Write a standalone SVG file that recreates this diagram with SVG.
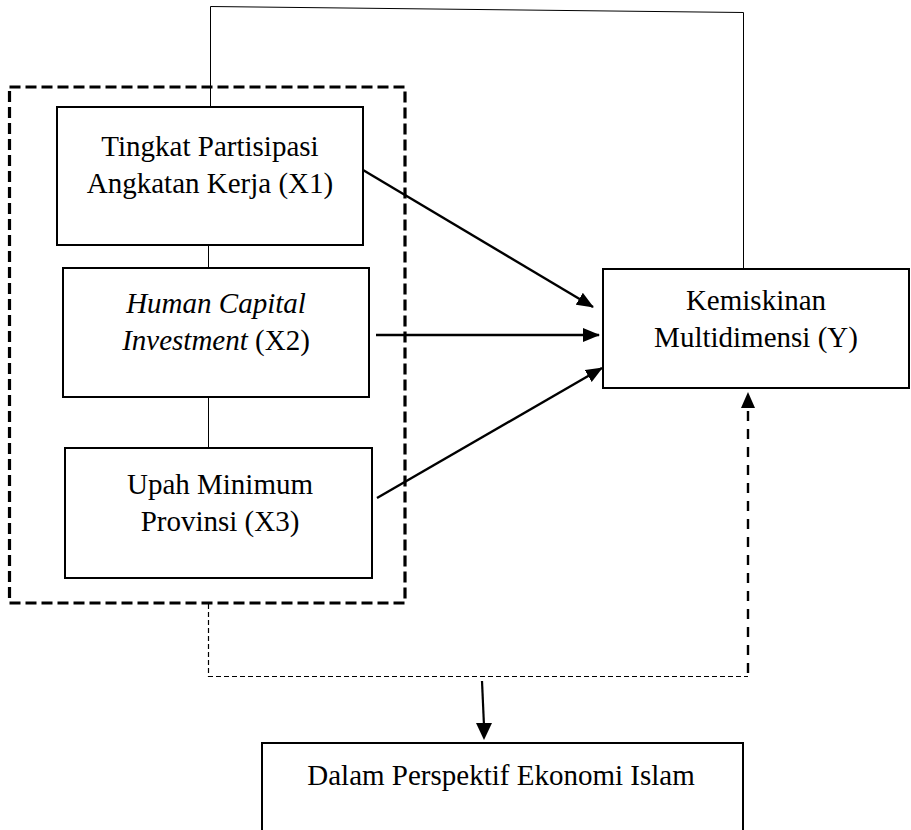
<svg xmlns="http://www.w3.org/2000/svg" width="911" height="830" viewBox="0 0 911 830">
<style>
.box{fill:#fff;stroke:#000;stroke-width:2}
.t{font-family:"Liberation Serif","Times New Roman",serif;font-size:29px;fill:#000;text-anchor:middle}
.i{font-style:italic}
.thin{fill:none;stroke:#000;stroke-width:1}
.arr{fill:none;stroke:#000;stroke-width:2.4;marker-end:url(#ah)}
</style>
<defs>
<marker id="ah" markerUnits="userSpaceOnUse" markerWidth="17" markerHeight="14" refX="16" refY="7" orient="auto">
<path d="M0,0 L17,7 L0,14 z" fill="#000"/>
</marker>
</defs>
<rect width="911" height="830" fill="#fff"/>
<g id="connectors">
<polyline class="thin" points="210.5,107 210.5,6.5 743.5,12.5 743.5,269"/>
<line class="thin" x1="208.5" y1="245" x2="208.5" y2="268"/>
<line class="thin" x1="208.5" y1="397" x2="208.5" y2="448"/>
<line class="arr" x1="363" y1="170" x2="593" y2="307"/>
<line class="arr" x1="376" y1="335" x2="599" y2="335"/>
<line class="arr" x1="377" y1="498" x2="602" y2="368"/>
<polyline fill="none" stroke="#000" stroke-width="1.2" stroke-dasharray="5,3" points="208.5,604 208.5,676.5 748,676.5"/>
<line fill="none" stroke="#000" stroke-width="2.4" stroke-dasharray="10,8" x1="748" y1="673" x2="748" y2="405"/>
<path d="M741,408 L748,392 L755,408 z" fill="#000"/>
<line fill="none" stroke="#000" stroke-width="2.2" x1="482" y1="681" x2="484" y2="726"/>
<path d="M476,723 L484,740 L492,723 z" fill="#000"/>
</g>
<g id="group-box">
<rect x="9.5" y="87" width="395.5" height="516" fill="none" stroke="#000" stroke-width="3.2" stroke-dasharray="11,5"/>
</g>
<g id="x1">
<rect class="box" x="57" y="107" width="306" height="138"/>
<text class="t" x="210" y="156">Tingkat Partisipasi</text>
<text class="t" x="210" y="193">Angkatan Kerja (X1)</text>
</g>
<g id="x2">
<rect class="box" x="63" y="268" width="306" height="129"/>
<text class="t i" x="216" y="313">Human Capital</text>
<text class="t" x="216" y="350"><tspan class="i">Investment</tspan> (X2)</text>
</g>
<g id="x3">
<rect class="box" x="65" y="448" width="307" height="130"/>
<text class="t" x="220" y="494">Upah Minimum</text>
<text class="t" x="220" y="531">Provinsi (X3)</text>
</g>
<g id="y">
<rect class="box" x="603" y="269" width="306" height="119"/>
<text class="t" x="756" y="310">Kemiskinan</text>
<text class="t" x="756" y="347">Multidimensi (Y)</text>
</g>
<g id="islam">
<rect class="box" x="262" y="743" width="481" height="100"/>
<text class="t" x="501" y="785">Dalam Perspektif Ekonomi Islam</text>
</g>
</svg>
